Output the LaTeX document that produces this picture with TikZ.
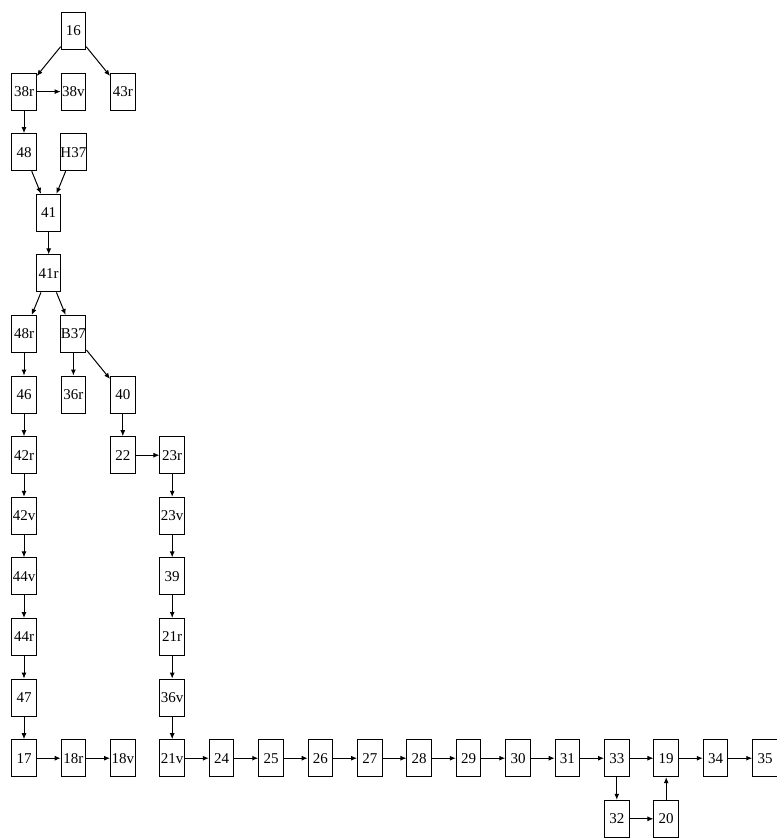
\documentclass[tikz,border=0pt]{standalone}
\usepackage{fontspec}
\setmainfont{Liberation Serif}
\usetikzlibrary{arrows.meta}
\begin{document}
\begin{tikzpicture}[x=1pt,y=-1pt,
  box/.style={draw,line width=1pt,rectangle,minimum width=24.5pt,minimum height=37pt,inner sep=0pt,font=\fontsize{15}{15}\selectfont},
  edge/.style={draw,line width=1pt,-{Latex[length=6pt,width=5pt]}}]
\useasboundingbox (0,0) rectangle (777,839);
\def\cx#1{24+49.4*#1}
\def\ry#1{31+60.6*#1}
\node[box] (n16) at ({\cx{1}},{\ry{0}}) {16};
\node[box] (n38r) at ({\cx{0}},{\ry{1}}) {38r};
\node[box] (n38v) at ({\cx{1}},{\ry{1}}) {38v};
\node[box] (n43r) at ({\cx{2}},{\ry{1}}) {43r};
\node[box] (n48) at ({\cx{0}},{\ry{2}}) {48};
\node[box] (nH37) at ({\cx{1}},{\ry{2}}) {H37};
\node[box] (n41) at ({\cx{0.5}},{\ry{3}}) {41};
\node[box] (n41r) at ({\cx{0.5}},{\ry{4}}) {41r};
\node[box] (n48r) at ({\cx{0}},{\ry{5}}) {48r};
\node[box] (nB37) at ({\cx{1}},{\ry{5}}) {B37};
\node[box] (n46) at ({\cx{0}},{\ry{6}}) {46};
\node[box] (n36r) at ({\cx{1}},{\ry{6}}) {36r};
\node[box] (n40) at ({\cx{2}},{\ry{6}}) {40};
\node[box] (n42r) at ({\cx{0}},{\ry{7}}) {42r};
\node[box] (n22) at ({\cx{2}},{\ry{7}}) {22};
\node[box] (n23r) at ({\cx{3}},{\ry{7}}) {23r};
\node[box] (n42v) at ({\cx{0}},{\ry{8}}) {42v};
\node[box] (n23v) at ({\cx{3}},{\ry{8}}) {23v};
\node[box] (n44v) at ({\cx{0}},{\ry{9}}) {44v};
\node[box] (n39) at ({\cx{3}},{\ry{9}}) {39};
\node[box] (n44r) at ({\cx{0}},{\ry{10}}) {44r};
\node[box] (n21r) at ({\cx{3}},{\ry{10}}) {21r};
\node[box] (n47) at ({\cx{0}},{\ry{11}}) {47};
\node[box] (n36v) at ({\cx{3}},{\ry{11}}) {36v};
\node[box] (n17) at ({\cx{0}},{\ry{12}}) {17};
\node[box] (n18r) at ({\cx{1}},{\ry{12}}) {18r};
\node[box] (n18v) at ({\cx{2}},{\ry{12}}) {18v};
\node[box] (n21v) at ({\cx{3}},{\ry{12}}) {21v};
\node[box] (n24) at ({\cx{4}},{\ry{12}}) {24};
\node[box] (n25) at ({\cx{5}},{\ry{12}}) {25};
\node[box] (n26) at ({\cx{6}},{\ry{12}}) {26};
\node[box] (n27) at ({\cx{7}},{\ry{12}}) {27};
\node[box] (n28) at ({\cx{8}},{\ry{12}}) {28};
\node[box] (n29) at ({\cx{9}},{\ry{12}}) {29};
\node[box] (n30) at ({\cx{10}},{\ry{12}}) {30};
\node[box] (n31) at ({\cx{11}},{\ry{12}}) {31};
\node[box] (n33) at ({\cx{12}},{\ry{12}}) {33};
\node[box] (n19) at ({\cx{13}},{\ry{12}}) {19};
\node[box] (n34) at ({\cx{14}},{\ry{12}}) {34};
\node[box] (n35) at ({\cx{15}},{\ry{12}}) {35};
\node[box] (n32) at ({\cx{12}},{\ry{13}}) {32};
\node[box] (n20) at ({\cx{13}},{\ry{13}}) {20};
\path[edge] (n16) -- (n38r);
\path[edge] (n16) -- (n43r);
\path[edge] (n38r) -- (n38v);
\path[edge] (n38r) -- (n48);
\path[edge] (n48) -- (n41);
\path[edge] (nH37) -- (n41);
\path[edge] (n41) -- (n41r);
\path[edge] (n41r) -- (n48r);
\path[edge] (n41r) -- (nB37);
\path[edge] (n48r) -- (n46);
\path[edge] (nB37) -- (n36r);
\path[edge] (nB37) -- (n40);
\path[edge] (n46) -- (n42r);
\path[edge] (n42r) -- (n42v);
\path[edge] (n42v) -- (n44v);
\path[edge] (n44v) -- (n44r);
\path[edge] (n44r) -- (n47);
\path[edge] (n47) -- (n17);
\path[edge] (n17) -- (n18r);
\path[edge] (n18r) -- (n18v);
\path[edge] (n40) -- (n22);
\path[edge] (n22) -- (n23r);
\path[edge] (n23r) -- (n23v);
\path[edge] (n23v) -- (n39);
\path[edge] (n39) -- (n21r);
\path[edge] (n21r) -- (n36v);
\path[edge] (n36v) -- (n21v);
\path[edge] (n21v) -- (n24);
\path[edge] (n24) -- (n25);
\path[edge] (n25) -- (n26);
\path[edge] (n26) -- (n27);
\path[edge] (n27) -- (n28);
\path[edge] (n28) -- (n29);
\path[edge] (n29) -- (n30);
\path[edge] (n30) -- (n31);
\path[edge] (n31) -- (n33);
\path[edge] (n33) -- (n19);
\path[edge] (n19) -- (n34);
\path[edge] (n34) -- (n35);
\path[edge] (n33) -- (n32);
\path[edge] (n32) -- (n20);
\path[edge] (n20) -- (n19);
\end{tikzpicture}
\end{document}
